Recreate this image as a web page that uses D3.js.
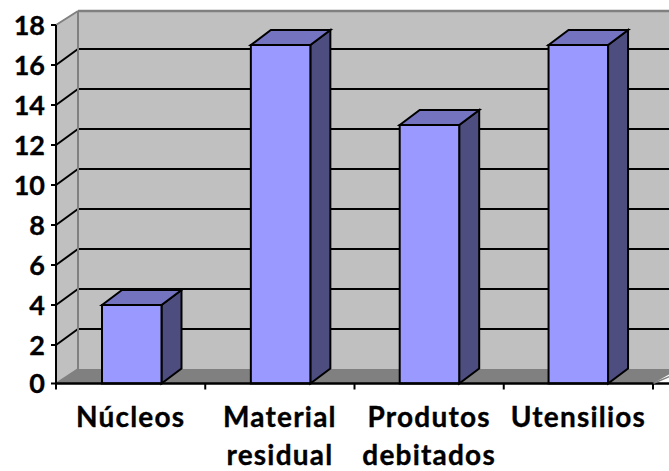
<!DOCTYPE html>
<html><head><meta charset="utf-8">
<script src="https://cdn.jsdelivr.net/npm/d3@7"></script>
<style>html,body{margin:0;padding:0;background:#fff}svg{display:block}
text{font-family:Lato,"Open Sans",sans-serif;font-weight:700;fill:#000;stroke:#000;stroke-width:.35px}</style></head>
<body><script>
const categories=["Núcleos","Material|residual","Produtos|debitados","Utensilios"];
const values=[4,17,13,17];
const yTicks=[0,2,4,6,8,10,12,14,16,18];
const W=669,H=471;
const svg=d3.select("body").append("svg").attr("width",W).attr("height",H);
const x=d3.scaleBand().domain(categories).range([56,653]).paddingInner(0).paddingOuter(0);
const y=d3.scaleLinear().domain([0,18]).range([385,25]);
const base=383.5, wallDx=22, wallDy=16, topBack=11, floorBack=369;
const bw=59.5, bdx=20, bdy=15, bOff=46;
const poly=(pts,fill,stroke,sw)=>svg.append("polygon").attr("points",pts.map(p=>p.join(",")).join(" "))
  .attr("fill",fill).attr("stroke",stroke||"none").attr("stroke-width",sw||0).attr("stroke-linejoin","miter");
const line=(a,b,c,w)=>svg.append("line").attr("x1",a[0]).attr("y1",a[1]).attr("x2",b[0]).attr("y2",b[1]).attr("stroke",c).attr("stroke-width",w);
const x0=x.range()[0], x1=x.range()[1];
// walls
poly([[x0+wallDx,topBack],[W+10,topBack],[W+10,floorBack],[x0+wallDx,floorBack]],"#c0c0c0");
poly([[x0,y(18)],[x0+wallDx,topBack],[x0+wallDx,floorBack],[x0,base]],"#c0c0c0");
poly([[x0,base],[x0+wallDx,floorBack],[W+10,floorBack],[x1,base]],"#808080");
// gridlines
yTicks.filter(d=>d>0&&d<18).forEach(d=>{
  line([x0,y(d)],[x0+wallDx,y(d)-wallDy],"#000",2);
  line([x0+wallDx,y(d)-wallDy],[W+10,y(d)-wallDy],"#000",2);
});
line([x0,y(18)],[x0+wallDx,topBack],"#808080",2);
line([x0+wallDx,topBack],[W+10,topBack],"#808080",2.5);
line([x0+wallDx,topBack],[x0+wallDx,floorBack],"#808080",2);
line([x0,base],[x0+wallDx,floorBack],"#808080",1.5);
// bars
categories.forEach((c,i)=>{
  const l=x(c)+bOff-i*0.4, r=l+bw, t=y(values[i]);
  poly([[r,t],[r+bdx,t-bdy],[r+bdx,base-bdy],[r,base]],"#4d4d80","#000",2);
  poly([[l,t],[l+bdx,t-bdy],[r+bdx,t-bdy],[r,t]],"#7373bf","#000",2);
  poly([[l,t],[r,t],[r,base],[l,base]],"#9999ff","#000",2);
});
// axes
line([x0,y(18)],[x0,base+1],"#000",2);
line([x0-1,base],[W+10,base],"#000",2.5);
line([x1,base],[W+10,base-11],"#808080",1.5);
yTicks.forEach(d=>{
  const ty=d===0?base:y(d);
  line([x0-5,ty],[x0,ty],"#000",2);
  svg.append("text").attr("x",x0-11).attr("y",ty+9.5).attr("text-anchor","end").attr("font-size",27).text(d);
});
[...categories.map(c=>x(c)),x1].forEach(px=>line([px,base],[px,base+6],"#000",2));
// category labels
categories.forEach(c=>{
  c.split("|").forEach((t,j)=>{
    svg.append("text").attr("x",x(c)+x.bandwidth()/2).attr("y",427+j*37.5).attr("text-anchor","middle").attr("font-size",28).attr("letter-spacing",1.2).text(t);
  });
});
</script></body></html>
